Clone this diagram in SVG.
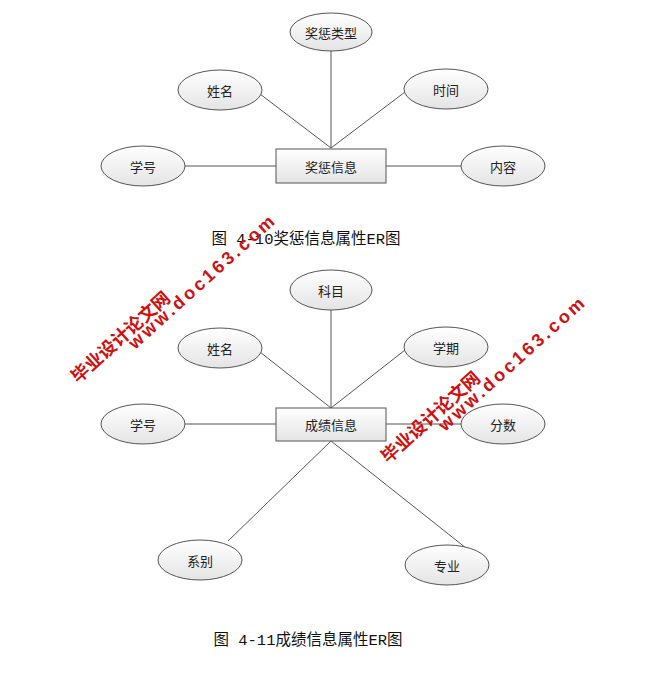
<svg xmlns="http://www.w3.org/2000/svg" width="650" height="692" viewBox="0 0 650 692">
<defs>
<linearGradient id="g" x1="0" y1="0" x2="0" y2="1"><stop offset="0" stop-color="#ffffff"/><stop offset="1" stop-color="#e4e4e4"/></linearGradient>
<style>
.e{fill:url(#g);stroke:#555;stroke-width:1}
.r{fill:url(#g);stroke:#555;stroke-width:1}
.t{font-family:"Noto Sans CJK SC",sans-serif;font-size:13px;fill:#222;text-anchor:middle;dominant-baseline:central}
.c{font-family:"Liberation Mono","Noto Sans CJK SC",monospace;font-size:15.5px;fill:#111;text-anchor:middle}
.l{stroke:#555;stroke-width:1;fill:none}
.w{font-family:"Liberation Sans","Noto Sans CJK SC",sans-serif;font-weight:bold;fill:#d01010;font-size:18px}
</style>
</defs>
<rect width="650" height="692" fill="#fff"/>
<g id="connectors">
<line class="l" x1="331" y1="51" x2="331" y2="148"/>
<line class="l" x1="260" y1="94" x2="331" y2="148"/>
<line class="l" x1="405" y1="92" x2="331" y2="148"/>
<line class="l" x1="185" y1="166" x2="276" y2="166"/>
<line class="l" x1="386" y1="166" x2="461" y2="166"/>
<line class="l" x1="331" y1="310" x2="331" y2="408"/>
<line class="l" x1="260" y1="352" x2="331" y2="408"/>
<line class="l" x1="405" y1="350" x2="331" y2="408"/>
<line class="l" x1="185" y1="424" x2="276" y2="424"/>
<line class="l" x1="386" y1="424" x2="461" y2="424"/>
<line class="l" x1="331" y1="441" x2="228" y2="541"/>
<line class="l" x1="331" y1="441" x2="466" y2="548"/>
</g>
<g id="n1"><ellipse class="e" cx="331" cy="32" rx="41" ry="19"/><text class="t" x="331" y="32">奖惩类型</text></g>
<g id="n2"><ellipse class="e" cx="220" cy="90" rx="42" ry="20"/><text class="t" x="220" y="90">姓名</text></g>
<g id="n3"><ellipse class="e" cx="446" cy="89" rx="42" ry="20"/><text class="t" x="446" y="89">时间</text></g>
<g id="n4"><ellipse class="e" cx="143" cy="166" rx="42" ry="20"/><text class="t" x="143" y="166">学号</text></g>
<g id="n5"><ellipse class="e" cx="503" cy="166" rx="42" ry="20"/><text class="t" x="503" y="166">内容</text></g>
<g id="n6"><rect class="r" x="276" y="149" width="110" height="34"/><text class="t" x="331" y="166">奖惩信息</text></g>
<text class="c" x="306" y="244">图 4-10奖惩信息属性ER图</text>
<g id="m1"><ellipse class="e" cx="331" cy="290" rx="41" ry="20"/><text class="t" x="331" y="290">科目</text></g>
<g id="m2"><ellipse class="e" cx="220" cy="348" rx="42" ry="20"/><text class="t" x="220" y="348">姓名</text></g>
<g id="m3"><ellipse class="e" cx="446" cy="347" rx="42" ry="20"/><text class="t" x="446" y="347">学期</text></g>
<g id="m4"><ellipse class="e" cx="143" cy="424" rx="42" ry="20"/><text class="t" x="143" y="424">学号</text></g>
<g id="m5"><ellipse class="e" cx="503" cy="424" rx="42" ry="20"/><text class="t" x="503" y="424">分数</text></g>
<g id="m6"><rect class="r" x="276" y="408" width="110" height="33"/><text class="t" x="331" y="424">成绩信息</text></g>
<g id="m7"><ellipse class="e" cx="200" cy="560" rx="42" ry="20"/><text class="t" x="200" y="560">系别</text></g>
<g id="m8"><ellipse class="e" cx="447" cy="565" rx="42" ry="20"/><text class="t" x="447" y="565">专业</text></g>
<text class="c" x="308" y="645">图 4-11成绩信息属性ER图</text>
<g id="watermark">
<text class="w" transform="translate(78,384) rotate(-42)">毕业设计论文网</text>
<text class="w" transform="translate(135,350) rotate(-42)" letter-spacing="3">www.doc163.com</text>
<text class="w" transform="translate(388,464) rotate(-42)">毕业设计论文网</text>
<text class="w" transform="translate(445,432) rotate(-42)" letter-spacing="3">www.doc163.com</text>
</g>
</svg>
